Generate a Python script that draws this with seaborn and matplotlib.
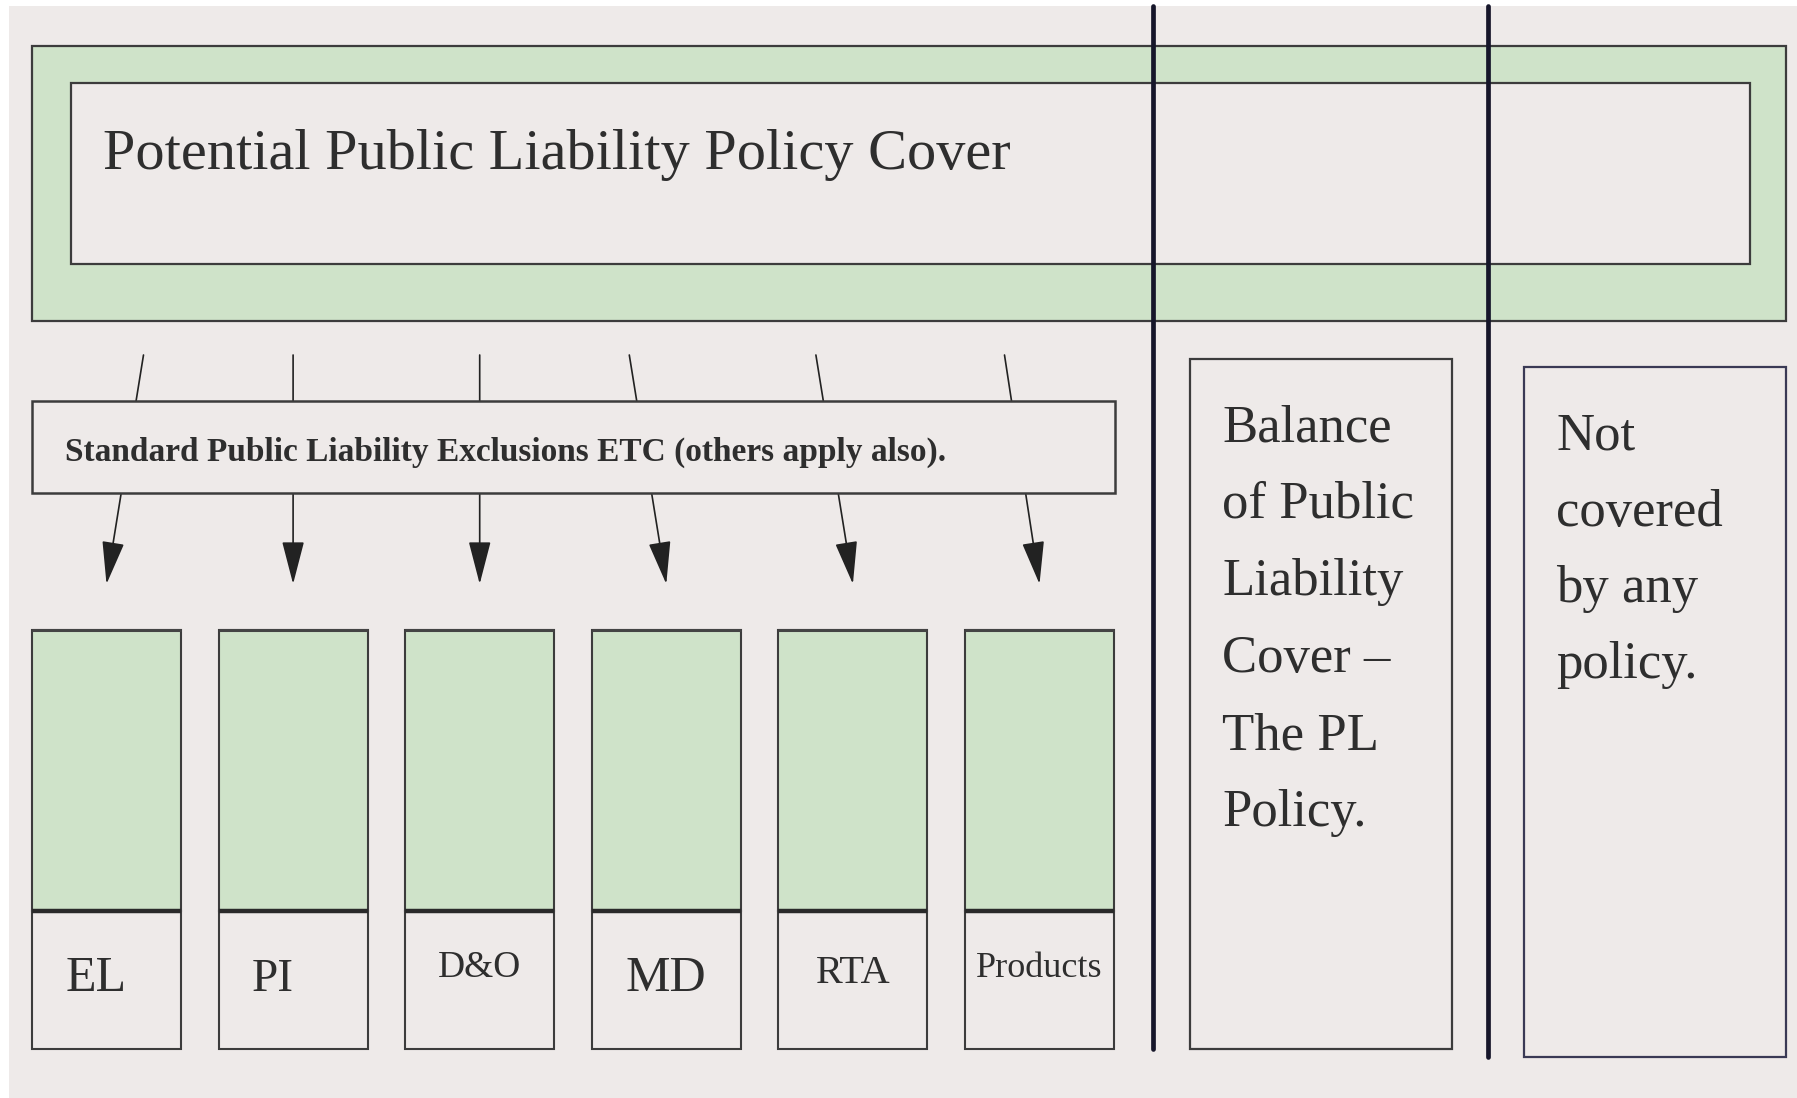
import numpy as np
import pandas as pd
import matplotlib.pyplot as plt
import matplotlib.patches as mpatches
import seaborn as sns

# ------------------------------------------------------------
# content
# ------------------------------------------------------------
title = "Potential Public Liability Policy Cover"
exclusions = "Standard Public Liability Exclusions ETC (others apply also)."
categories = ["EL", "PI", "D&O", "MD", "RTA", "Products"]
balance_lines = ["Balance", "of Public", "Liability", "Cover \u2013", "The PL", "Policy."]
not_covered_lines = ["Not", "covered", "by any", "policy."]

# ------------------------------------------------------------
# layout (pixels, y downwards) and styles
# ------------------------------------------------------------
W, H = 1797, 1098
BG = "#eeeae9"
GREEN = "#cfe3c9"
EDGE = "#3c3c3c"
INK = "#2e2e2e"
NAVY = "#16162a"

label_sizes = [36, 34, 27, 36, 29, 26]
label_base = [991, 991, 977, 991, 983, 977]
label_shift = [-10, -20, 0, 0, 0, 0]
arrow_tilt = [37, 0, 0, -37, -37, -35]

box_left0, box_w, box_step = 32, 149, 186.6
green_top, divider, box_bottom = 630, 911, 1049

sns.set_theme(style="white")
plt.rcParams["font.family"] = ["Liberation Serif", "DejaVu Serif"]

fig = plt.figure(figsize=(W / 100, H / 100), dpi=100, facecolor="white")
ax = fig.add_axes([0, 0, 1, 1])
ax.set_facecolor("white")

centers = box_left0 + box_w / 2 + box_step * np.arange(len(categories))
cols = pd.DataFrame({"category": categories, "center": centers,
                     "green": divider - green_top, "label": box_bottom - divider})

# background
ax.add_patch(mpatches.Rectangle((9, 6), W, H, facecolor=BG, edgecolor="none", zorder=0))

# top cover band
ax.add_patch(mpatches.Rectangle((32, 46), 1786 - 32, 321 - 46, facecolor=GREEN,
                                edgecolor=EDGE, lw=1.6, zorder=1))
ax.add_patch(mpatches.Rectangle((71, 83), 1750 - 71, 264 - 83, facecolor=BG,
                                edgecolor=EDGE, lw=1.6, zorder=2))
ax.text(103, 155, title, fontsize=42, color=INK, va="center", ha="left", zorder=3)

# arrows (behind exclusions box)
for c, t in zip(centers, arrow_tilt):
    ax.add_patch(mpatches.FancyArrowPatch((c + t, 355), (c, 584),
                                          arrowstyle="-|>,head_length=2.7,head_width=0.7",
                                          mutation_scale=10, shrinkA=0, shrinkB=0,
                                          color="#222222", lw=1.2, zorder=2))

# exclusions box
ax.add_patch(mpatches.Rectangle((32, 401), 1115 - 32, 493 - 401, facecolor=BG,
                                edgecolor=EDGE, lw=1.8, zorder=3))
ax.text(65, 452, exclusions, fontsize=24, fontweight="bold", color=INK,
        va="center", ha="left", zorder=4)

# category columns: green tops and white label boxes
sns.barplot(data=cols, x="center", y="green", native_scale=True, orient="x",
            bottom=green_top, width=box_w / box_step, color=GREEN, saturation=1,
            edgecolor=EDGE, linewidth=1.5, errorbar=None, ax=ax, zorder=3)
sns.barplot(data=cols, x="center", y="label", native_scale=True, orient="x",
            bottom=divider, width=box_w / box_step, color=BG, saturation=1,
            edgecolor=EDGE, linewidth=1.5, errorbar=None, ax=ax, zorder=3)
for c in centers:
    ax.plot([c - box_w / 2, c + box_w / 2], [divider, divider], color="#2a2a2a",
            lw=3.2, solid_capstyle="butt", zorder=4)
    ax.plot([c - box_w / 2, c + box_w / 2], [green_top, green_top], color="#444444",
            lw=2.2, solid_capstyle="butt", zorder=4)
for c, lab, fs, yb, dx in zip(centers, categories, label_sizes, label_base, label_shift):
    ax.text(c + dx, yb, lab, fontsize=fs, color=INK, ha="center", va="baseline", zorder=5)

# balance / not covered boxes
ax.add_patch(mpatches.Rectangle((1190, 359), 1452 - 1190, 1049 - 359, facecolor=BG,
                                edgecolor=EDGE, lw=1.6, zorder=3))
ax.add_patch(mpatches.Rectangle((1524, 367), 1786 - 1524, 1057 - 367, facecolor=BG,
                                edgecolor="#3a3a55", lw=1.6, zorder=3))
for i, line in enumerate(balance_lines):
    ax.text(1222, 441 + 77 * i, line, fontsize=38, color=INK, ha="left",
            va="baseline", zorder=4)
for i, line in enumerate(not_covered_lines):
    ax.text(1556, 450 + 76 * i, line, fontsize=38, color=INK, ha="left",
            va="baseline", zorder=4)

# thick vertical separators
ax.plot([1153, 1153], [6, 1049], color=NAVY, lw=3.4, zorder=6)
ax.plot([1488, 1488], [6, 1057], color=NAVY, lw=3.4, zorder=6)

ax.set_xlim(0, W)
ax.set_ylim(H, 0)
ax.axis("off")

fig.savefig("out.png", dpi=100, facecolor="white")
